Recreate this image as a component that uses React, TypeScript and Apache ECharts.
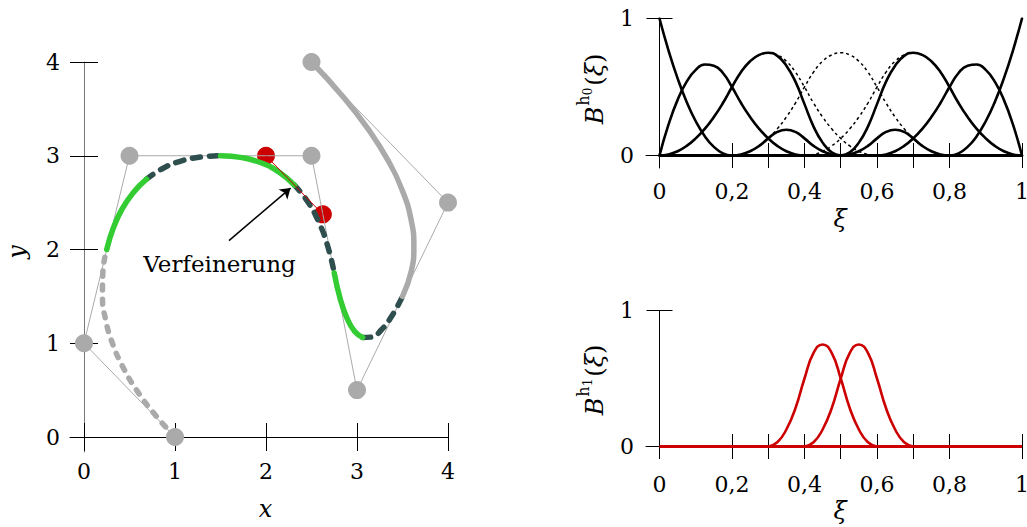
import React, { useEffect, useRef } from 'react';
import * as echarts from 'echarts';

// ---------- left plot: control polygon, refined points, curve ----------
const controlX = [1, 0, 0.5, 2.5, 3, 4, 2.5];
const controlY = [0, 1, 3, 3, 0.5, 2.5, 4];
const refinedX = [2, 2.625];
const refinedY = [3, 2.375];
const curveX = [1, 0.770, 0.578, 0.426, 0.3125, 0.238, 0.203, 0.207, 0.25, 0.324, 0.422, 0.543, 0.6875, 0.855, 1.047, 1.262, 1.5, 1.738, 1.953, 2.145, 2.3125, 2.457, 2.578, 2.676, 2.75, 2.816, 2.891, 2.973, 3.0625, 3.160, 3.266, 3.379, 3.5, 3.594, 3.625, 3.594, 3.5, 3.344, 3.125, 2.844, 2.5];
const curveY = [0, 0.25, 0.5, 0.75, 1, 1.25, 1.5, 1.75, 2, 2.234, 2.438, 2.609, 2.75, 2.859, 2.938, 2.984, 3, 2.980, 2.922, 2.824, 2.6875, 2.512, 2.297, 2.043, 1.75, 1.473, 1.266, 1.129, 1.0625, 1.066, 1.141, 1.285, 1.5, 1.758, 2.031, 2.320, 2.625, 2.945, 3.281, 3.633, 4];
const segmentBounds = [0, 8, 12, 16, 20, 24, 28, 32, 40];
const segmentKinds = ['grayDash', 'green', 'darkDash', 'green', 'darkDash', 'green', 'darkDash', 'graySolid'];
const arrowFrom = [1.593, 2.094];
const arrowTo = [2.27, 2.655];
const leftTicks = [0, 1, 2, 3, 4];

// ---------- right plots: basis functions ----------
const xiGrid = [0, 0.025, 0.05, 0.075, 0.1, 0.125, 0.15, 0.175, 0.2, 0.225, 0.25, 0.275, 0.3, 0.325, 0.35, 0.375, 0.4, 0.425, 0.45, 0.475, 0.5, 0.525, 0.55, 0.575, 0.6, 0.625, 0.65, 0.675, 0.7, 0.725, 0.75, 0.775, 0.8, 0.825, 0.85, 0.875, 0.9, 0.925, 0.95, 0.975, 1];
const b0N0 = [1, 0.766, 0.563, 0.391, 0.25, 0.141, 0.063, 0.016, 0];
const b0N1 = [0, 0.227, 0.406, 0.539, 0.625, 0.664, 0.656, 0.602, 0.5, 0.383, 0.281, 0.195, 0.125, 0.070, 0.031, 0.008, 0];
const b0N2 = [0, 0.008, 0.031, 0.070, 0.125, 0.195, 0.281, 0.383, 0.5, 0.609, 0.688, 0.734, 0.75, 0.734, 0.688, 0.609, 0.5, 0.383, 0.281, 0.195, 0.125, 0.070, 0.031, 0.008, 0];
const b0N3 = [0, 0.008, 0.031, 0.070, 0.125, 0.195, 0.281, 0.383, 0.5, 0.609, 0.688, 0.734, 0.75, 0.734, 0.688, 0.609, 0.5, 0.383, 0.281, 0.195, 0.125, 0.070, 0.031, 0.008, 0];
const b0N4 = [0, 0.008, 0.031, 0.070, 0.125, 0.195, 0.281, 0.383, 0.5, 0.609, 0.688, 0.734, 0.75, 0.734, 0.688, 0.609, 0.5, 0.383, 0.281, 0.195, 0.125, 0.070, 0.031, 0.008, 0];
const b0N5 = [0, 0.008, 0.031, 0.070, 0.125, 0.195, 0.281, 0.383, 0.5, 0.602, 0.656, 0.664, 0.625, 0.539, 0.406, 0.227, 0];
const b0N6 = [0, 0.016, 0.063, 0.141, 0.25, 0.391, 0.563, 0.766, 1];
const t0N2 = [0, 0.008, 0.031, 0.070, 0.125, 0.195, 0.281, 0.383, 0.5, 0.609, 0.688, 0.734, 0.75, 0.727, 0.656, 0.539, 0.375, 0.211, 0.094, 0.023, 0];
const t0N3 = [0, 0.008, 0.031, 0.070, 0.125, 0.172, 0.188, 0.172, 0.125, 0.070, 0.031, 0.008, 0, 0.008, 0.031, 0.070, 0.125, 0.172, 0.188, 0.172, 0.125, 0.070, 0.031, 0.008, 0];
const t0N4 = [0, 0.023, 0.094, 0.211, 0.375, 0.539, 0.656, 0.727, 0.75, 0.734, 0.688, 0.609, 0.5, 0.383, 0.281, 0.195, 0.125, 0.070, 0.031, 0.008, 0];
const b1A = [0, 0.031, 0.125, 0.281, 0.5, 0.688, 0.75, 0.688, 0.5, 0.281, 0.125, 0.031, 0];
const b1B = [0, 0.031, 0.125, 0.281, 0.5, 0.688, 0.75, 0.688, 0.5, 0.281, 0.125, 0.031, 0];
// index into xiGrid where each function's list begins
const startN0 = 0, startN1 = 0, startN2 = 0, startN3 = 8, startN4 = 16, startN5 = 24, startN6 = 32;
const startT2 = 0, startT3 = 8, startT4 = 20, startA = 12, startB = 16;
const xiTicks = [0, 0.2, 0.3, 0.4, 0.5, 0.6, 0.7, 0.8, 1];
const xiLabels = [0, 0.2, 0.4, 0.6, 0.8, 1];
const basisYTicks = [0, 1];
const baseline = [[0, 0], [1, 0]];

const SERIF = 'DejaVu Serif';
const GRAY = '#aaaaaa';
const GREEN = '#33cc33';
const DARK = '#2f4f4f';
const RED = '#cc0000';

const pts = (start: number, vals: number[]) => vals.map((v, i) => [xiGrid[start + i], v]);

const fmtXi = (v: number) => (v === 0 ? '0' : v === 1 ? '1' : v.toFixed(1).replace('.', ','));

function xAxes(grid: number, min: number, max: number, ticks: number[], labels: number[], len: number, margin: number, fmt: any, lineColor: string) {
  return [
    {
      type: 'value', gridIndex: grid, min, max, position: 'bottom',
      axisLine: { show: true, onZero: true, lineStyle: { color: lineColor, width: 1 } },
      axisTick: { show: true, customValues: ticks, length: len, inside: false, lineStyle: { color: '#000', width: 1 } },
      axisLabel: { show: true, customValues: labels, margin, formatter: fmt, fontFamily: SERIF, fontSize: 22, color: '#000' },
      splitLine: { show: false },
    },
    {
      type: 'value', gridIndex: grid, min, max, position: 'bottom',
      axisLine: { show: false, onZero: true },
      axisTick: { show: true, customValues: ticks, length: len, inside: true, lineStyle: { color: '#000', width: 1 } },
      axisLabel: { show: false },
      splitLine: { show: false },
    },
  ];
}

function yAxes(grid: number, min: number, max: number, ticks: number[], len: number, margin: number, lineColor: string) {
  return [
    {
      type: 'value', gridIndex: grid, min, max, position: 'left',
      axisLine: { show: true, onZero: true, lineStyle: { color: lineColor, width: 1 } },
      axisTick: { show: true, customValues: ticks, length: len, inside: false, lineStyle: { color: '#000', width: 1 } },
      axisLabel: { show: true, customValues: ticks, margin, formatter: (v: number) => String(v), fontFamily: SERIF, fontSize: 22, color: '#000' },
      splitLine: { show: false },
    },
    {
      type: 'value', gridIndex: grid, min, max, position: 'left',
      axisLine: { show: false, onZero: true },
      axisTick: { show: true, customValues: ticks, length: len, inside: true, lineStyle: { color: '#000', width: 1 } },
      axisLabel: { show: false },
      splitLine: { show: false },
    },
  ];
}

function segStyle(kind: string) {
  if (kind === 'grayDash') return { color: GRAY, width: 5.5, type: [5, 9], cap: 'round' };
  if (kind === 'darkDash') return { color: DARK, width: 5.5, type: [8, 9], cap: 'round' };
  if (kind === 'green') return { color: GREEN, width: 5.5, type: 'solid', cap: 'round' };
  return { color: GRAY, width: 5.5, type: 'solid', cap: 'round' };
}

function buildOption() {
  const series: any[] = [];
  // control polygon
  series.push({
    type: 'line', xAxisIndex: 0, yAxisIndex: 0, symbol: 'none', silent: true,
    data: controlX.map((x, i) => [x, controlY[i]]),
    lineStyle: { color: GRAY, width: 1 },
  });
  // curve segments: dashed first, then solid
  const order = [0, 2, 4, 6, 1, 3, 5, 7];
  order.forEach((s) => {
    const a = segmentBounds[s], b = segmentBounds[s + 1];
    const data = curveX.slice(a, b + 1).map((x, i) => [x, curveY[a + i]]);
    series.push({
      type: 'line', xAxisIndex: 0, yAxisIndex: 0, symbol: 'none', smooth: 0.5, silent: true,
      data, lineStyle: segStyle(segmentKinds[s]),
    });
  });
  // control points
  series.push({
    type: 'scatter', xAxisIndex: 0, yAxisIndex: 0, symbolSize: 18, silent: true,
    data: controlX.map((x, i) => [x, controlY[i]]),
    itemStyle: { color: GRAY, opacity: 1 },
  });
  // refined control points link + arrow
  series.push({
    type: 'line', xAxisIndex: 0, yAxisIndex: 0, symbol: 'none', silent: true,
    data: refinedX.map((x, i) => [x, refinedY[i]]),
    lineStyle: { color: RED, width: 1 },
    markLine: {
      silent: true, symbol: ['none', 'arrow'], symbolSize: 10,
      label: { show: false },
      lineStyle: { color: '#000', width: 1.5, type: 'solid' },
      emphasis: { disabled: true },
      data: [[{ coord: arrowFrom }, { coord: arrowTo }]],
    },
  });
  series.push({
    type: 'scatter', xAxisIndex: 0, yAxisIndex: 0, symbolSize: 18, silent: true,
    data: refinedX.map((x, i) => [x, refinedY[i]]),
    itemStyle: { color: RED, opacity: 1 },
  });

  // top right: level-0 basis
  const dotted = (vals: number[], start: number) => ({
    type: 'line', xAxisIndex: 2, yAxisIndex: 2, symbol: 'none', smooth: 0.5, silent: true,
    data: pts(start, vals), lineStyle: { color: '#000', width: 1.5, type: [3, 3] },
  });
  const solid = (vals: number[], start: number, axis: number, color: string) => ({
    type: 'line', xAxisIndex: axis, yAxisIndex: axis, symbol: 'none', smooth: 0.5, silent: true,
    data: pts(start, vals), lineStyle: { color, width: 2.6, type: 'solid', cap: 'round' },
  });
  series.push(dotted(b0N2, startN2), dotted(b0N3, startN3), dotted(b0N4, startN4));
  series.push({
    type: 'line', xAxisIndex: 2, yAxisIndex: 2, symbol: 'none', silent: true,
    data: baseline, lineStyle: { color: '#000', width: 2.8 },
  });
  series.push(
    solid(b0N0, startN0, 2, '#000'), solid(b0N1, startN1, 2, '#000'), solid(t0N2, startT2, 2, '#000'),
    solid(t0N3, startT3, 2, '#000'), solid(t0N4, startT4, 2, '#000'), solid(b0N5, startN5, 2, '#000'),
    solid(b0N6, startN6, 2, '#000'),
  );
  // bottom right: level-1 basis
  series.push({
    type: 'line', xAxisIndex: 4, yAxisIndex: 4, symbol: 'none', silent: true,
    data: baseline, lineStyle: { color: RED, width: 2.8 },
  });
  series.push(solid(b1A, startA, 4, RED), solid(b1B, startB, 4, RED));

  const richLabel = (sub: string) => ({
    text: `{m|B}{s|h}{t|${sub}}{n|(}{m|ξ}{n|)}`,
    align: 'center', verticalAlign: 'middle', fill: '#000',
    rich: {
      m: { fontFamily: SERIF, fontStyle: 'italic', fontSize: 24, fill: '#000', padding: [7, 0, 0, 0] },
      n: { fontFamily: SERIF, fontSize: 24, fill: '#000', padding: [7, 0, 0, 0] },
      s: { fontFamily: SERIF, fontSize: 16, fill: '#000', verticalAlign: 'top', padding: [0, 0, 0, 1] },
      t: { fontFamily: SERIF, fontSize: 12, fill: '#000', verticalAlign: 'top', padding: [6, 2, 0, 0] },
    },
  });

  return {
    animation: false,
    backgroundColor: '#ffffff',
    grid: [
      { left: 70, top: 62, width: 378, height: 390, outerBoundsMode: 'none', containLabel: false },
      { left: 646, top: 18.5, width: 376, height: 149.5, outerBoundsMode: 'none', containLabel: false },
      { left: 646, top: 310.5, width: 376, height: 147.5, outerBoundsMode: 'none', containLabel: false },
    ],
    xAxis: [
      ...xAxes(0, -0.1538, 4, leftTicks, leftTicks, 14, 8, (v: number) => String(v), '#000'),
      ...xAxes(1, -0.0372, 1, xiTicks, xiLabels, 12.5, 12, fmtXi, '#000'),
      ...xAxes(2, -0.0372, 1, xiTicks, xiLabels, 12.5, 15, fmtXi, '#000'),
    ],
    yAxis: [
      ...yAxes(0, -0.16, 4, leftTicks, 14, 10, '#777'),
      ...yAxes(1, -0.0912, 1, basisYTicks, 13, 12, '#000'),
      ...yAxes(2, -0.0846, 1, basisYTicks, 13, 12, '#000'),
    ],
    graphic: [
      { type: 'text', x: 219.5, y: 264, silent: true, style: { text: 'Verfeinerung', fontFamily: SERIF, fontSize: 23, fill: '#000', align: 'center', verticalAlign: 'middle' } },
      { type: 'text', x: 265.5, y: 509, silent: true, style: { text: 'x', fontFamily: SERIF, fontStyle: 'italic', fontSize: 24, fill: '#000', align: 'center', verticalAlign: 'middle' } },
      { type: 'text', x: 17, y: 252, rotation: Math.PI / 2, silent: true, style: { text: 'y', fontFamily: SERIF, fontStyle: 'italic', fontSize: 24, fill: '#000', align: 'center', verticalAlign: 'middle' } },
      { type: 'text', x: 840, y: 219, silent: true, style: { text: 'ξ', fontFamily: SERIF, fontStyle: 'italic', fontSize: 24, fill: '#000', align: 'center', verticalAlign: 'middle' } },
      { type: 'text', x: 840, y: 511, silent: true, style: { text: 'ξ', fontFamily: SERIF, fontStyle: 'italic', fontSize: 24, fill: '#000', align: 'center', verticalAlign: 'middle' } },
      { type: 'text', x: 591, y: 89, rotation: Math.PI / 2, silent: true, style: richLabel('0') },
      { type: 'text', x: 591, y: 380, rotation: Math.PI / 2, silent: true, style: richLabel('1') },
    ],
    series,
  };
}

export default function App() {
  const ref = useRef<HTMLDivElement>(null);
  useEffect(() => {
    document.body.style.margin = '0';
    document.body.style.overflow = 'hidden';
    const chart = echarts.init(ref.current!, null, { renderer: 'svg' });
    chart.setOption(buildOption() as any);
    return () => chart.dispose();
  }, []);
  return <div ref={ref} style={{ width: 1027, height: 527, background: '#fff' }} />;
}
